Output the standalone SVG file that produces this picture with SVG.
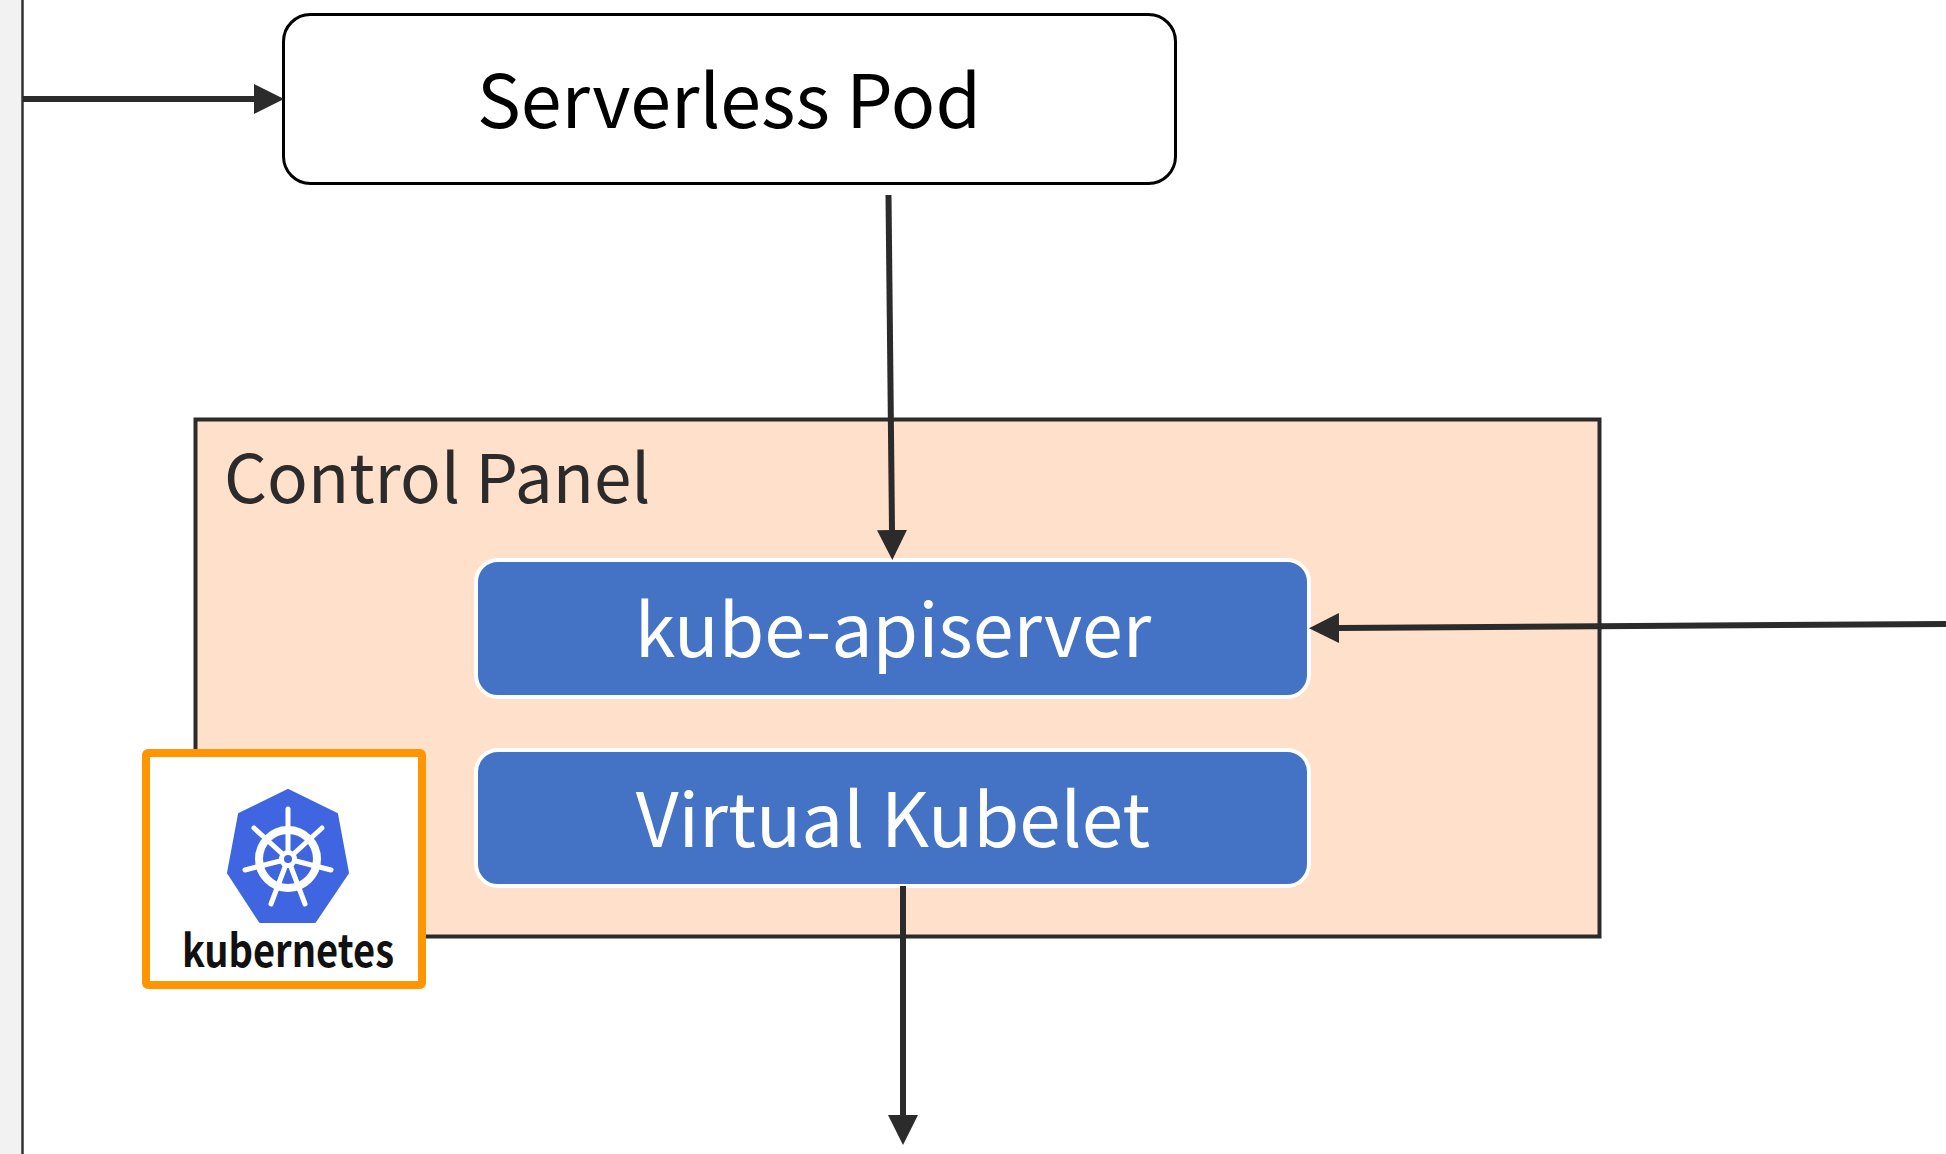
<svg xmlns="http://www.w3.org/2000/svg" width="1946" height="1154" viewBox="0 0 1946 1154">
<defs>
<style>
text{font-family:"Noto Sans CJK SC","Noto Sans",sans-serif}
.c{stroke:#2b2b2b;stroke-width:6;fill:none}
.b{fill:#4472c4;stroke:#fff;stroke-width:4}
.l{fill:#fff;text-anchor:middle}
.sp{stroke:#fff;stroke-width:5;stroke-linecap:round}
</style>
<marker id="ah" markerUnits="userSpaceOnUse" markerWidth="30" markerHeight="30" refX="0" refY="15" orient="auto"><path d="M0,0L30,15L0,30z" fill="#2b2b2b"/></marker>
</defs>
<rect width="1946" height="1154" fill="#fff"/>
<rect id="sidebar" x="0" y="0" width="22.500" height="1154" fill="#f2f2f2"/>
<line x1="22.500" y1="0" x2="22.500" y2="1154" stroke="#333" stroke-width="2.500"/>
<g id="control-panel">
<rect x="195.500" y="419.500" width="1404" height="517" fill="#ffe0cb" stroke="#2b2b2b" stroke-width="4"/>
<text x="224" y="503" font-size="67.500" fill="#2b2b2b">Control Panel</text>
</g>
<g id="serverless-pod">
<rect x="283.500" y="14.500" width="892" height="169" rx="27" fill="#fff" stroke="#000" stroke-width="3"/>
<text x="729" y="128" font-size="73.500" fill="#000" text-anchor="middle">Serverless Pod</text>
</g>
<g id="kube-apiserver">
<rect class="b" x="476" y="560" width="833" height="137" rx="22"/>
<text class="l" x="893" y="657" font-size="73.500">kube-apiserver</text>
</g>
<g id="virtual-kubelet">
<rect class="b" x="476" y="750" width="833" height="136" rx="22"/>
<text class="l" x="893" y="847" font-size="74.500">Virtual Kubelet</text>
</g>
<g id="connectors">
<line class="c" x1="23" y1="99" x2="254" y2="99" marker-end="url(#ah)"/>
<line class="c" x1="888.500" y1="195" x2="892" y2="530" marker-end="url(#ah)"/>
<line class="c" x1="1946" y1="624" x2="1339" y2="628" marker-end="url(#ah)"/>
<line class="c" x1="903" y1="886" x2="903" y2="1115" marker-end="url(#ah)"/>
</g>
<g id="kubernetes-logo">
<rect x="146" y="753" width="276" height="232" rx="2" fill="#fff" stroke="#ff9500" stroke-width="8"/>
<path d="M288,790L337,814L348,873L315,922L260,922L228,873L239,814z" fill="#3f66e0" stroke="#3f66e0" stroke-width="2" stroke-linejoin="round"/>
<circle cx="288" cy="859" r="29" fill="none" stroke="#fff" stroke-width="8"/>
<g class="sp">
<line x1="288" y1="859" x2="288" y2="809"/>
<line x1="288" y1="859" x2="254" y2="828"/>
<line x1="288" y1="859" x2="322" y2="828"/>
<line x1="288" y1="859" x2="245" y2="870"/>
<line x1="288" y1="859" x2="331" y2="870"/>
<line x1="288" y1="859" x2="271" y2="904"/>
<line x1="288" y1="859" x2="305" y2="904"/>
</g>
<circle cx="288" cy="859" r="9" fill="#fff"/>
<circle cx="288" cy="859" r="4" fill="#3f66e0"/>
<text x="182" y="967" font-size="45" font-weight="700" fill="#111" textLength="212" lengthAdjust="spacingAndGlyphs">kubernetes</text>
</g>
</svg>
